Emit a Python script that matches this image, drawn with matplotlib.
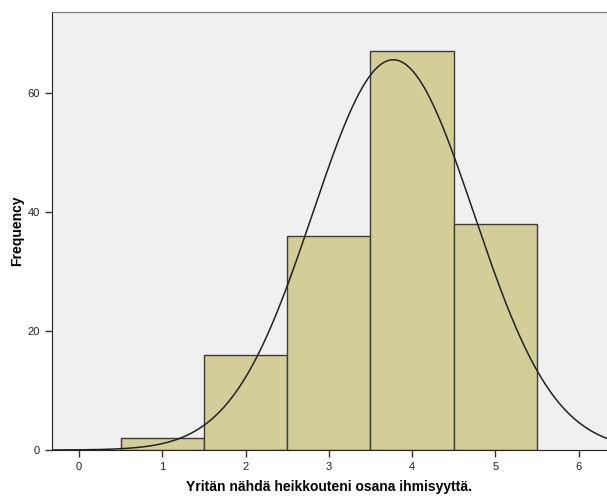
import numpy as np
import matplotlib
matplotlib.use('Agg')
import matplotlib.pyplot as plt

# Histogram counts per answer value
values = [1, 2, 3, 4, 5]
counts = [2, 16, 36, 67, 38]

# Normal curve parameters (from the data)
n_total = sum(counts)
mean = sum(v * c for v, c in zip(values, counts)) / n_total
sd = np.sqrt(sum(c * (v - mean) ** 2 for v, c in zip(values, counts)) / (n_total - 1))

plt.rcParams['font.family'] = ['Liberation Sans', 'DejaVu Sans']

fig = plt.figure(figsize=(6.07, 4.98), dpi=100)
ax = fig.add_axes([52 / 607, 48 / 498, 1 - 52 / 607, (450 - 12) / 498])
ax.set_facecolor('#f0f0f0')

ax.bar(values, counts, width=1.0, color='#d3ce97', edgecolor='#3c3c3c', linewidth=1.0, zorder=2)

xs = np.linspace(-0.35, 6.4, 400)
ys = n_total / (sd * np.sqrt(2 * np.pi)) * np.exp(-0.5 * ((xs - mean) / sd) ** 2)
ax.plot(xs, ys, color='#222222', linewidth=1.1, zorder=3)

ax.set_xlim(-0.324, 6.34)
ax.set_ylim(0, 73.6)
ax.set_xticks(range(0, 7))
ax.set_yticks([0, 20, 40, 60])
ax.tick_params(labelsize=8, length=5, width=1, color='#333333', labelcolor='#222222')

ax.spines['right'].set_visible(False)
ax.spines['top'].set_color('#777777')
ax.spines['left'].set_color('#222222')
ax.spines['bottom'].set_color('#222222')

ax.set_xlabel('Yritän nähdä heikkouteni osana ihmisyyttä.', fontsize=10, fontweight='bold', labelpad=6)
ax.set_ylabel('Frequency', fontsize=10, fontweight='bold', labelpad=3)

fig.savefig('out.png', dpi=100)
